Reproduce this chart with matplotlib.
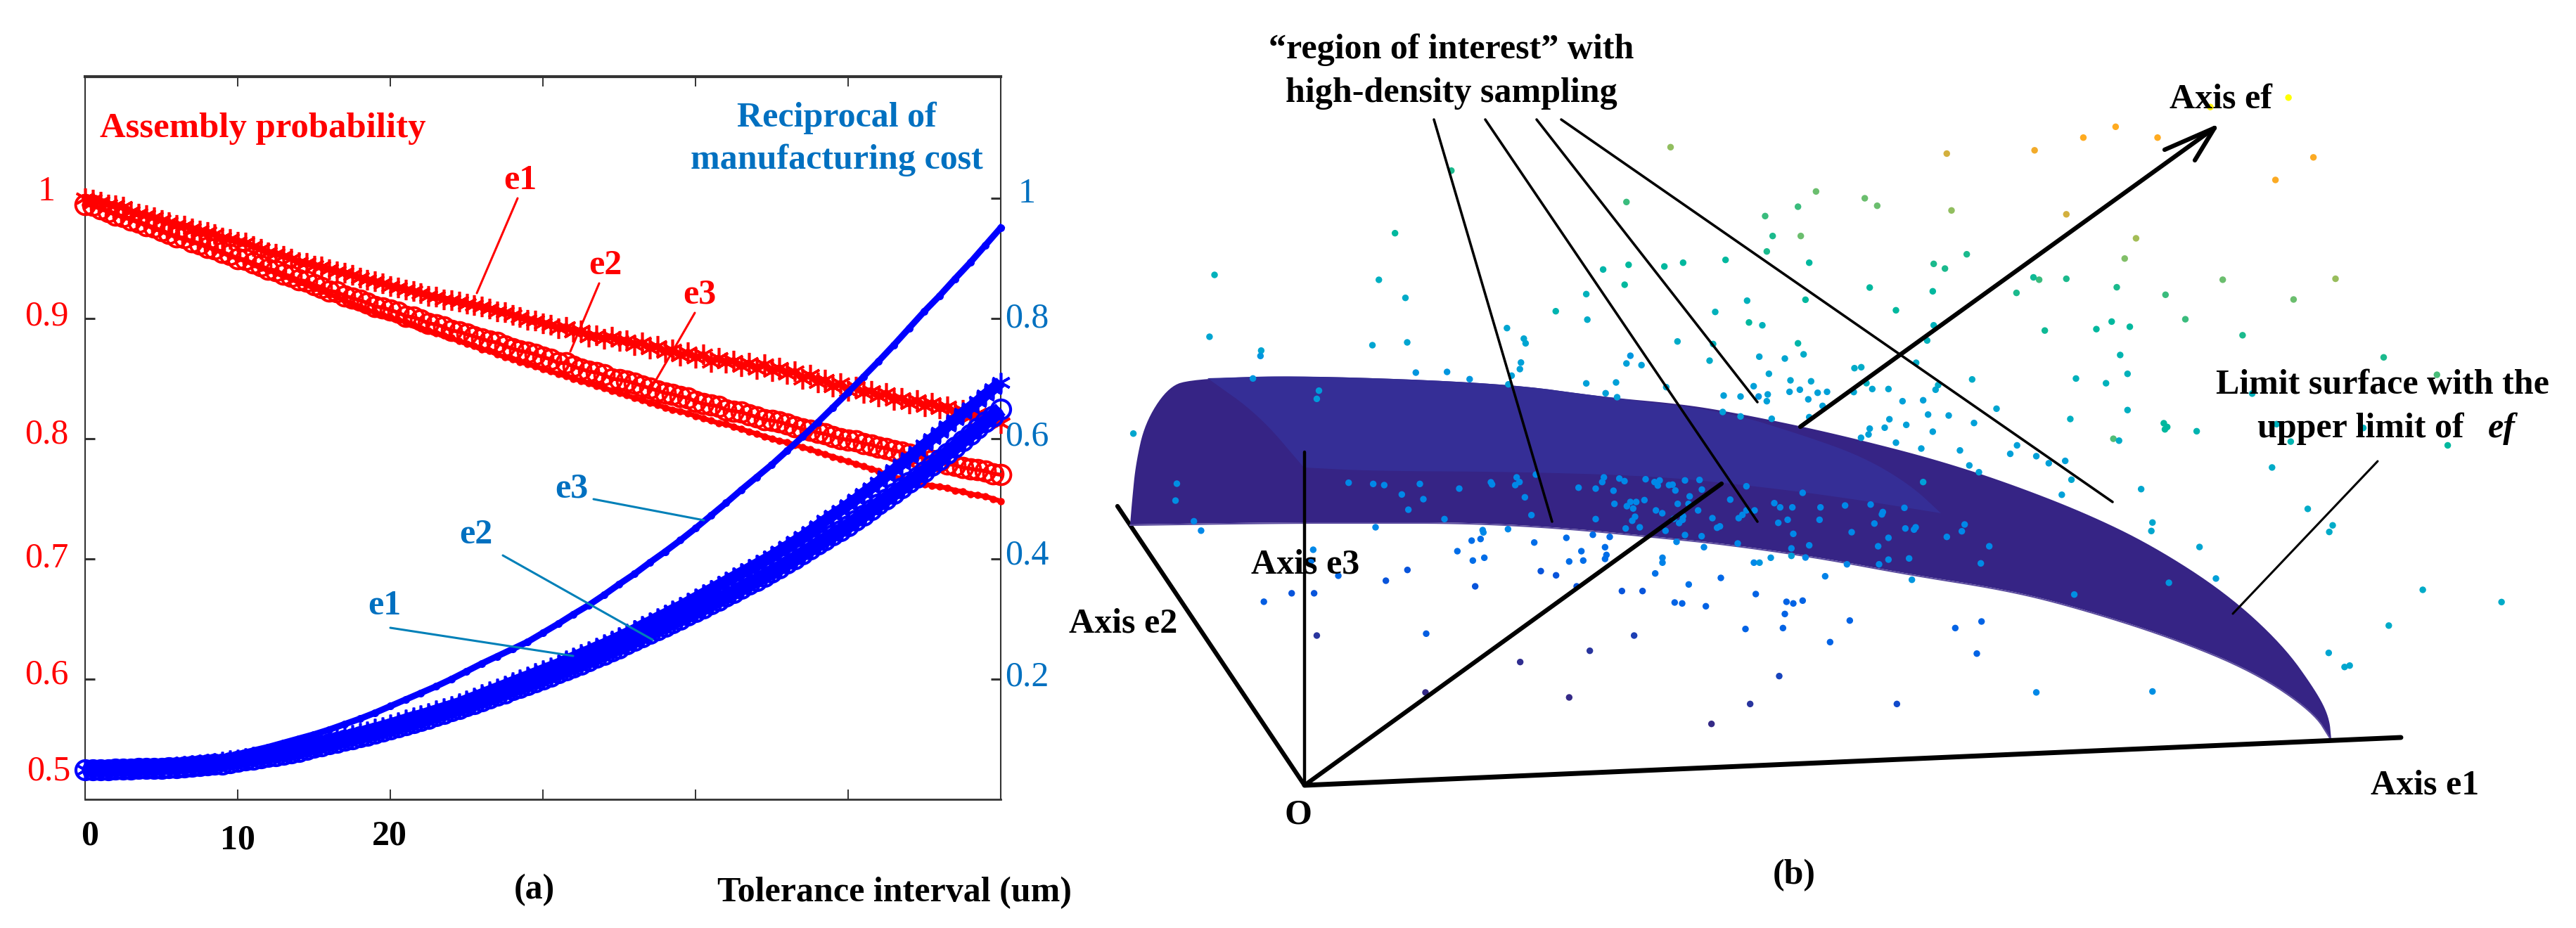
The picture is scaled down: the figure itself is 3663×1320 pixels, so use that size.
import numpy as np
import matplotlib
matplotlib.use('Agg')
import matplotlib.pyplot as plt
from matplotlib.colors import LinearSegmentedColormap

plt.rcParams['font.family'] = ['Liberation Serif', 'DejaVu Serif']

RED = '#FF0000'; BLUE = '#0000FF'; TEAL = '#0070C0'; LEAD = '#0080B8'

# ---------- panel (a) data : tolerance interval 0..60 in steps of 0.5 ----------
red_e1 = [1.000,.999,.997,.995,.994,.993,.989,.987,.986,.984,.982,
 .980,.978,.977,.975,.973,.972,.970,.967,.966,.964,
 .963,.960,.958,.955,.954,.952,.950,.947,.946,.944,
 .943,.941,.939,.938,.936,.934,.932,.931,.929,.927,
 .926,.924,.923,.921,.919,.918,.916,.915,.914,.912,
 .911,.910,.908,.906,.905,.903,.901,.899,.898,.896,
 .895,.892,.893,.889,.890,.885,.886,.883,.885,.881,
 .882,.878,.880,.875,.877,.872,.874,.869,.872,.867,
 .870,.864,.867,.863,.865,.860,.863,.858,.862,.856,
 .859,.854,.856,.850,.853,.847,.849,.843,.846,.840,
 .843,.838,.840,.835,.838,.832,.834,.829,.832,.827,
 .830,.825,.827,.821,.824,.818,.821,.815,.817,.813]
red_e2 = [.995,.994,.991,.989,.986,.985,.982,.980,.977,.976,.973,
 .971,.968,.967,.964,.962,.959,.958,.955,.953,.950,
 .949,.946,.944,.941,.940,.937,.935,.932,.931,.928,
 .926,.923,.922,.919,.917,.915,.913,.910,.909,.907,
 .905,.902,.901,.899,.896,.895,.893,.890,.889,.887,
 .885,.883,.881,.880,.877,.875,.873,.872,.870,.868,
 .866,.863,.863,.860,.858,.856,.855,.853,.850,.849,
 .848,.846,.844,.842,.840,.838,.837,.835,.834,.831,
 .829,.828,.827,.824,.823,.822,.820,.818,.816,.815,
 .814,.812,.810,.808,.807,.805,.804,.802,.800,.799,
 .798,.796,.795,.793,.792,.790,.789,.787,.785,.784,
 .782,.781,.779,.778,.776,.775,.774,.773,.771,.770]
red_e3 = [.995,.994,.992,.989,.987,.984,.983,.980,.978,.975,.973,
 .970,.968,.966,.964,.962,.960,.957,.955,.952,.950,
 .948,.945,.942,.940,.938,.935,.933,.930,.928,.925,
 .923,.920,.918,.915,.912,.910,.907,.905,.903,.901,
 .899,.897,.895,.892,.890,.888,.886,.884,.881,.879,
 .877,.874,.873,.870,.868,.866,.864,.862,.860,.858,
 .856,.854,.852,.850,.848,.846,.844,.842,.840,.838,
 .836,.834,.832,.830,.828,.826,.824,.823,.821,.819,
 .817,.815,.813,.812,.810,.808,.806,.804,.802,.800,
 .798,.797,.795,.793,.791,.789,.787,.785,.783,.781,
 .779,.777,.775,.773,.770,.768,.767,.766,.764,.762,
 .761,.760,.759,.757,.756,.754,.753,.752,.750,.748]
blue_e1 = [.049,.049,.049,.050,.050,.050,.051,.051,.052,.052,.053,
 .054,.055,.056,.057,.058,.060,.061,.063,.065,.067,
 .069,.071,.073,.075,.077,.080,.082,.085,.088,.092,
 .095,.098,.101,.104,.108,.111,.114,.118,.121,.125,
 .129,.133,.137,.140,.144,.148,.152,.156,.160,.165,
 .170,.175,.180,.185,.190,.195,.200,.205,.210,.215,
 .220,.225,.231,.236,.242,.247,.253,.258,.264,.270,
 .276,.282,.289,.295,.302,.308,.315,.321,.328,.335,
 .342,.349,.356,.363,.370,.377,.384,.391,.398,.405,
 .413,.421,.429,.437,.446,.455,.464,.473,.481,.490,
 .499,.509,.518,.528,.538,.548,.558,.568,.579,.590,
 .600,.610,.621,.631,.642,.652,.662,.673,.683,.694]
blue_e2 = [.049,.049,.049,.049,.050,.050,.050,.051,.051,.051,.052,
 .053,.053,.054,.055,.056,.057,.058,.059,.061,.063,
 .065,.067,.069,.071,.073,.075,.077,.079,.083,.086,
 .089,.092,.095,.098,.101,.104,.107,.110,.113,.117,
 .120,.124,.127,.131,.135,.139,.143,.147,.151,.155,
 .159,.164,.168,.173,.177,.182,.186,.191,.195,.200,
 .205,.210,.215,.220,.225,.230,.236,.241,.247,.252,
 .258,.264,.270,.276,.282,.288,.294,.300,.306,.312,
 .318,.325,.331,.338,.344,.351,.358,.364,.371,.378,
 .385,.393,.400,.408,.416,.424,.432,.440,.447,.455,
 .464,.473,.482,.491,.500,.509,.518,.527,.536,.545,
 .555,.565,.576,.586,.597,.607,.617,.628,.638,.649]
# blue e3 : steps of 1
blue_e3 = [.049,.049,.050,.051,.053,.055,.058,.061,.065,.070,.075,
 .081,.087,.094,.101,.108,.116,.125,.134,.144,.155,
 .166,.177,.188,.200,.213,.226,.238,.250,.262,.277,
 .292,.308,.323,.340,.358,.375,.394,.412,.431,.451,
 .472,.493,.515,.536,.557,.580,.603,.627,.652,.677,
 .703,.729,.756,.784,.812,.838,.866,.893,.922,.951]
x_half = np.arange(len(red_e1)) * 0.5
x_full = np.arange(len(blue_e3)) * 1.0
x_ticks = [10, 20, 30, 40, 50]
left_ticks = [1.0, 0.9, 0.8, 0.7, 0.6]
right_ticks = [1.0, 0.8, 0.6, 0.4, 0.2]

# ---------- panel (b) data : pixel positions on the sheet, with colour level ----------
# group A: x = 1950 + X/3, y = 550 + Y/3
A_x = [8,55,207,375,130,222,158,312,18,510,515,620,632,614,655,702,683,475,478,583,884,957,985,992,1058,1080,1033,1170,1037,1105,1130,1090,1117,1165,957,1125,1113,1085,1145,
       428,466,367,433,482,695,832,945,1017,896,997,1003,997,844,904,
       154,62,723,788,443,876,1069,1157,234,1121,932,635,231,844]
A_y = [415,420,415,435,460,480,525,565,600,408,417,387,407,420,472,375,548,612,622,608,431,435,407,387,392,403,444,395,500,492,492,510,520,484,565,555,572,605,600,
       657,650,702,742,730,665,645,632,641,702,685,718,735,746,742,
       782,828,787,805,852,852,872,872,1054,1062,1127,1175,1305,1326]
A_c = [.18]*39 + [.13]*15 + [.08]*8 + [.1,.04,.02,.01,.0,.0]
# group B: x = 2350 + X/3, y = 230 + Y/3
B_x = [697,905,958,1275,620,480,512,632,487,1340,1199,1247,50,130,311,668,926,1195,403,652,267,1038,411,468,1199,106,258,620,1171,455,564,644,243,861,890,1124,496,58,588,676,431,912,1363,1218,1207,584,628,704,744,858,937,1006,303,375,452,491,487,664,1066,1154,725,1467,299,375,508,668,1175,1263,1010,1082,1371,990,926,921,889,1195,1038,1146,1311,1351,1392]
B_y = [127,156,188,208,192,232,317,317,383,395,436,456,447,431,419,431,537,553,593,589,641,634,686,698,698,767,778,775,763,832,840,822,849,881,877,858,905,962,933,937,958,945,929,953,973,982,973,986,982,983,970,970,998,1002,1002,993,1022,1014,1022,1018,1042,1054,1068,1087,1097,1090,1079,1083,1099,1123,1115,1135,1139,1164,1178,1152,1199,1224,1232,1296,1325]
B_c = [.5,.5,.5,.55,.46,.46,.42,.5,.42,.42,.42,.42,.38,.38,.38,.38,.38,.38,.33,.38,.33,.38,.38,.33,.33,.3,.33,.36,.33,.27,.27,.3,.3,.3,.3,.3,.27,.27,.27,.27,.25,.32,.3,.3,.27,.25,.25,.25,.25,.27,.27,.27,.25,.25,.22,.25,.25,.25,.25,.25,.25,.27,.25,.25,.25,.25,.25,.25,.25,.25,.25,.25,.25,.25,.25,.25,.25,.25,.25,.25,.25]
# group C: x = 2350 + X/3, y = 620 + Y/3
C_x = [1154,8,30,22,70,85,97,138,200,210,158,107,153,331,400,640,14,41,194,130,90,128,113,255,367,383,400,435,519,544,596,716,821,930,1074,982,978,536,576,712,946,55,138,209,275,287,1078,1115,1122,1331,1319,849,600,1006,1255,363,102,219,668,592,962,1436,504,592,652,1006,1094,1400,829,966,432,456,42,42,736,1106,11,291,154,
       440,571,600,640,94,126,227,564,396,556,841,757,1291,1403,1383,540,1042,416,251]
C_y = [197,197,190,212,210,208,233,190,188,229,258,290,290,272,215,243,318,330,318,343,354,358,372,351,351,337,318,318,287,305,305,305,297,293,307,325,335,371,358,358,374,405,423,428,392,386,395,400,390,378,407,411,418,435,431,459,452,475,467,480,471,471,520,512,519,528,523,544,548,548,541,541,520,541,599,614,587,606,634,
       675,708,715,703,711,715,727,760,824,820,788,880,820,792,929,1025,1144,1144,1229]
C_c = [.25] + [.18]*61 + [.22,.25,.18,.19,.19,.19,.18,.18,.18,.22,.17,.17,.17,.22,.14,.12,.14] + [.11]*15 + [.05,.06,.02,.0]
# group D: x = 1600 + X/1.96, y = 150 + Y/3
D_x = [1520,1397,909,752,249,707,781,1332,1403,1392,1285,1200,1288,1064,1111,1116,235,689,786,379,377,1408,1397,1439,1103,1100,1077,810,897,960,1285,1368,356,1068,540,534,1339,1371]
D_y = [178,412,278,545,723,744,821,700,680,765,805,878,914,950,995,1015,987,1023,1011,1046,1069,1068,1101,1108,1097,1125,1153,1140,1137,1168,1186,1182,1165,1190,1217,1252,1228,1245]
D_c = [.55,.46,.42,.38,.33,.32,.3,.36,.38,.38,.33,.35,.3,.27,.27,.27,.27,.27,.27,.27,.22,.22,.25,.25,.25,.25,.25,.22,.22,.22,.25,.25,.22,.25,.24,.24,.25,.25]
# group E: x = 1500 + X/1.568, y = 500 + Y/2.245
E_x = [175,272,269,310,326,655,576,572,632,528,578,466,584]
E_y = [262,422,476,542,572,419,633,668,716,772,772,799,907]
E_c = [.28,.2,.2,.18,.18,.18,.18,.15,.12,.08,.08,.1,.02]
# group F: x = 2400 + X/1.241, y = 100 + Y/1.494
F_x = [1060,922,755,698,829,612,457,1104,1037,668,791,771,668,620,610,944,1143,757,580,843,1069,878,630,721,748,780,979,763,1228,776,685,738,1322,996,776,675,840,846,842,898,1039,1192,1064,751,761,1341,581,569,615,637,666,677,660,1031,800,1094,820,818,1138,1132,903,932,849,682,1297,1436,1237,1131,1159,1168,820,615]
F_y = [58,78,120,143,143,170,177,185,233,306,357,400,443,445,440,445,443,461,473,477,487,529,553,550,534,545,563,605,610,645,655,665,647,687,722,741,750,758,763,767,752,760,789,783,787,797,797,815,820,835,830,870,902,844,890,932,961,979,967,981,1013,1080,1089,1114,1104,1130,1180,1238,1268,1265,1320,1322]
F_c = [1.0,.95,.75,.75,.75,.72,.66,.74,.74,.66,.58,.52,.42,.46,.4,.5,.56,.42,.42,.46,.5,.46,.4,.38,.38,.38,.42,.35,.42,.33,.33,.33,.47,.33,.32,.32,.38,.38,.38,.35,.33,.33,.35,.48,.3,.38,.25,.25,.25,.25,.25,.28,.25,.3,.28,.3,.28,.28,.3,.3,.27,.25,.22,.2,.3,.3,.3,.27,.28,.28,.2,.18]

# limit surface outline, upper run and lower run
surf_top_x = [1607,1610,1615,1628,1659,1691,1851,2138,2283,2383,2450,2560,2650,2750,2850,2964,3061,3165,3246,3294,3312,3315]
surf_top_y = [746,710,660,602,553,539,534,545,565,574,584,606,627,653,685,729,776,843,917,984,1020,1052]
surf_bot_x = [3315,3290,3206,3085,2948,2850,2717,2583,2450,2350,2217,2083,1950,1819,1607]
surf_bot_y = [1052,1012,955,905,862,838,817,792,773,763,750,743,743,743,746]
inner_top_x = [1717,1790,1854]
inner_top_y = [538,590,665]
inner_low_x = [1854,1950,2150,2350,2483,2617,2760]
inner_low_y = [665,670,671,677,690,707,730]
inner_up_x = [2760,2717,2650,2567,2450,2283,2138,1851,1717]
inner_up_y = [730,690,650,620,584,565,545,534,538]

axis_origin = (1855, 1117)
axis_e1_end = (3414, 1049)
axis_e2_end = (1589, 720)
axis_e3_end = (1855, 643)
axis_ef_low_end = (2448, 688)
axis_ef_high_start = (2560, 607)
axis_ef_tip = (3149, 182)
ef_barb_a = (3078, 213)
ef_barb_b = (3121, 228)
roi_starts = [(2039, 170), (2112, 170), (2185, 170), (2220, 170)]
roi_ends = [(2207, 742), (2499, 742), (2499, 572), (3004, 714)]


def rounded(xs, ys, passes=3):
    """Corner-cut an outline so it draws as a smooth edge; end points stay put."""
    p = np.column_stack([xs, ys]).astype(float)
    for _ in range(passes):
        q = [p[0]]
        for a, b in zip(p[:-1], p[1:]):
            q += [0.75 * a + 0.25 * b, 0.25 * a + 0.75 * b]
        q.append(p[-1])
        p = np.array(q)
    return p[:, 0], p[:, 1]


# ---------- figure ----------
W, H = 3663, 1320
fig = plt.figure(figsize=(W / 100, H / 100), dpi=100, facecolor='white')

L, R, T, B = 121, 1423, 109, 1137
ax = fig.add_axes([L / W, 1 - B / H, (R - L) / W, (B - T) / H])
ax.set_xlim(0, 60)
ax.set_ylim(0.5, 0.5 + (B - T) / 1710)
ax.set_xticks(x_ticks)
ax.set_yticks(left_ticks)
ax.tick_params(axis='x', which='both', direction='in', length=10, width=1.4, top=True, bottom=True,
               labelbottom=False, color='#333333')
ax.tick_params(axis='y', direction='in', length=10, width=2.2, labelleft=False, color='#333333')
for s in ax.spines.values():
    s.set_linewidth(1.5); s.set_color('#333333')
ax.spines['top'].set_linewidth(3)
ax.spines['bottom'].set_linewidth(2)
ax.plot(x_half, red_e1, ls='-', lw=7, marker=(6, 2, 0), ms=21, mew=2.6, color=RED, clip_on=False, zorder=3)
ax.plot(x_half, red_e2, ls='-', lw=4, marker='o', ms=20, mew=2.8, mfc='none', mec=RED, color=RED, clip_on=False, zorder=3)
ax.plot(x_half, red_e3, ls='-', lw=5, marker='o', ms=7.5, mew=0, color=RED, clip_on=False, zorder=3)

ax2 = ax.twinx()
ax2.set_ylim(0, (B - T) / 855)
ax2.set_yticks(right_ticks)
ax2.tick_params(axis='y', direction='in', length=10, width=2.2, labelright=False, color='#333333')
for s in ax2.spines.values():
    s.set_visible(False)
ax2.patch.set_alpha(0)
ax2.plot(x_half, blue_e1, ls='-', lw=12, marker=(6, 2, 0), ms=20, mew=2.6, color=BLUE, clip_on=False, zorder=4,
         solid_capstyle='butt')
ax2.plot(x_half, blue_e2, ls='-', lw=15, marker='o', ms=19.5, mew=3, mfc='none', mec=BLUE, color=BLUE, clip_on=False,
         zorder=4, solid_capstyle='butt')
ax2.plot(x_full, blue_e3, ls='-', lw=6.5, marker='o', ms=8, mew=0, color=BLUE, clip_on=False, zorder=4)

# overlay in sheet pixels for hand-placed text and panel (b)
ov = fig.add_axes([0, 0, 1, 1], zorder=10)
ov.set_xlim(0, W); ov.set_ylim(H, 0); ov.axis('off'); ov.patch.set_alpha(0)


def txt(x, y, s, color='k', size=36, weight='bold', ha='center', va='center', **kw):
    ov.text(x, y, s, color=color, fontsize=size, fontweight=weight, ha=ha, va=va, zorder=20, **kw)


def seg(a, b, color='k', lw=2.2, z=15):
    ov.plot([a[0], b[0]], [a[1], b[1]], color=color, lw=lw, zorder=z, solid_capstyle='round')


# panel (a) text
txt(142, 195, 'Assembly probability', RED, size=36.5, ha='left', va='baseline')
txt(1190, 180, 'Reciprocal of', TEAL, va='baseline')
txt(1190, 240, 'manufacturing cost', TEAL, va='baseline')
for y, s in zip([273, 450, 618, 794, 960], ['1', '0.9', '0.8', '0.7', '0.6']):
    txt(66, y, s, RED, weight='normal')
txt(69, 1097, '0.5', RED, weight='normal')
for y, s in zip([276, 453, 621, 790, 963], ['1', '0.8', '0.6', '0.4', '0.2']):
    txt(1460, y, s, TEAL, weight='normal')
for x, y, s in zip([128, 338, 554], [1190, 1195, 1190], ['0', '10', '20']):
    txt(x, y, s)
txt(760, 1266, '(a)')
txt(1020, 1282, 'Tolerance interval (um)', ha='left', va='baseline')

txt(740, 257, 'e1', RED); seg((736, 282), (678, 417), RED)
txt(861, 378, 'e2', RED); seg((852, 403), (811, 500), RED)
txt(995, 420, 'e3', RED); seg((988, 445), (914, 573), RED)
txt(813, 695, 'e3', TEAL); seg((844, 710), (1001, 740), LEAD)
txt(677, 761, 'e2', TEAL); seg((715, 790), (928, 910), LEAD)
txt(547, 862, 'e1', TEAL); seg((555, 893), (815, 933), LEAD)

# panel (b)
tx, ty = rounded(surf_top_x, surf_top_y)
bx, by = rounded(surf_bot_x, surf_bot_y)
ov.fill(np.r_[tx, bx], np.r_[ty, by], color='#362485', lw=0, zorder=2)
ov.plot(bx, by + 1, color='#5B4C9E', lw=1.5, zorder=2)
ix = np.r_[rounded(inner_top_x, inner_top_y)[0], rounded(inner_low_x, inner_low_y)[0], rounded(inner_up_x, inner_up_y)[0]]
iy = np.r_[rounded(inner_top_x, inner_top_y)[1], rounded(inner_low_x, inner_low_y)[1], rounded(inner_up_x, inner_up_y)[1]]
ov.fill(ix, iy, color='#352E96', lw=0, zorder=3)
parula = LinearSegmentedColormap.from_list('p', [
    (0, '#352A87'), (.07, '#0A50D8'), (.12, '#0068E8'), (.18, '#0088E8'), (.25, '#00A0D8'),
    (.32, '#00B0C0'), (.38, '#00B89E'), (.45, '#30BC80'), (.52, '#80BF68'), (.6, '#B0BC50'),
    (.68, '#E0AC38'), (.75, '#FFAA20'), (1, '#FFFF00')])
sx = np.concatenate([1950 + np.array(A_x) / 3, 2350 + np.array(B_x) / 3, 2350 + np.array(C_x) / 3,
                     1600 + np.array(D_x) / 1.96, 1500 + np.array(E_x) / 1.568, 2400 + np.array(F_x) / 1.241])
sy = np.concatenate([550 + np.array(A_y) / 3, 230 + np.array(B_y) / 3, 620 + np.array(C_y) / 3,
                     150 + np.array(D_y) / 3, 500 + np.array(E_y) / 2.245, 100 + np.array(F_y) / 1.494])
sc = np.array(A_c + B_c + C_c + D_c + E_c + F_c)
ov.scatter(sx, sy, c=sc, cmap=parula, vmin=0, vmax=1, s=46, linewidths=0, zorder=5)

seg(axis_origin, axis_e1_end, lw=5, z=8)
seg(axis_origin, axis_e2_end, lw=4.5, z=1)
seg(axis_origin, axis_e3_end, lw=3.2, z=8)
seg(axis_origin, axis_ef_low_end, lw=4.5, z=8)
seg(axis_ef_high_start, axis_ef_tip, lw=4.5, z=8)
seg(ef_barb_a, axis_ef_tip, lw=4.5, z=8)
seg(ef_barb_b, axis_ef_tip, lw=4.5, z=8)
for a, b in zip(roi_starts, roi_ends):
    seg(a, b, lw=2.6)
seg((3381, 656), (3175, 873), lw=2.2)

txt(2064, 83, '“region of interest” with', va='baseline')
txt(2064, 145, 'high-density sampling', va='baseline')
txt(3085, 153, 'Axis ef', ha='left', va='baseline')
txt(3151, 560, 'Limit surface with the', ha='left', va='baseline')
txt(3210, 622, 'upper limit of', ha='left', va='baseline')
txt(3538, 622, 'ef', ha='left', va='baseline', style='italic')
txt(3371, 1129, 'Axis e1', ha='left', va='baseline')
txt(1520, 899, 'Axis e2', ha='left', va='baseline')
txt(1779, 815, 'Axis e3', ha='left', va='baseline')
txt(1846, 1159, 'O')
txt(2551, 1245, '(b)')

fig.savefig('out.png', dpi=100)
